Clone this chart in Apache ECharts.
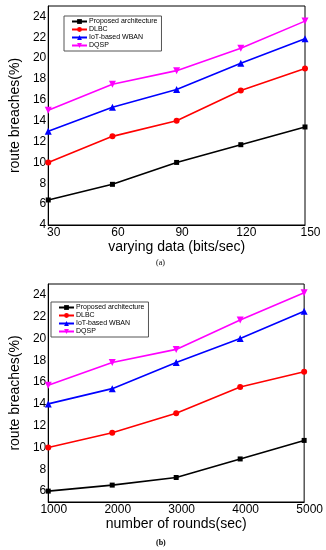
<!DOCTYPE html>
<html><head><meta charset="utf-8">
<script src="https://cdn.jsdelivr.net/npm/echarts@6/dist/echarts.min.js"></script>
<style>html,body{margin:0;padding:0;background:#fff}#c{width:326px;height:550px}</style>
</head><body><div id="c"></div>
<script>
var seriesNames = ['Proposed architecture', 'DLBC', 'IoT-based WBAN', 'DQSP'];
var xA = [30, 60, 90, 120, 150];
var proposedA = [6.4, 7.9, 10.0, 11.7, 13.4];
var dlbcA = [10.0, 12.5, 14.0, 16.9, 19.0];
var iotA = [13.0, 15.3, 17.0, 19.5, 21.85];
var dqspA = [15.0, 17.5, 18.8, 20.95, 23.55];
var xB = [1000, 2000, 3000, 4000, 5000];
var proposedB = [6.0, 6.55, 7.25, 8.95, 10.65];
var dlbcB = [10.0, 11.35, 13.15, 15.55, 16.95];
var iotB = [14.0, 15.4, 17.8, 20.0, 22.5];
var dqspB = [15.7, 17.8, 19.0, 21.7, 24.2];

var colors = ['#000000', '#ff0000', '#0000ff', '#ff00ff'];
var symbols = ['rect', 'circle', 'triangle', 'triangle'];
var symSizes = [5, 6, 7, 7];
var rotates = [0, 0, 0, 180];
var font = 'Liberation Sans, Arial, sans-serif';

function zip(xs, ys) { return xs.map(function (x, i) { return [x, ys[i]]; }); }
function mk(idx, gi, xs, ys) {
  return {
    name: seriesNames[idx], type: 'line', xAxisIndex: gi, yAxisIndex: gi,
    data: zip(xs, ys), symbol: symbols[idx], symbolSize: symSizes[idx], symbolRotate: rotates[idx],
    showAllSymbol: true, color: colors[idx],
    lineStyle: { width: 1.6, color: colors[idx] }, itemStyle: { color: colors[idx] },
    animation: false, z: 10 - idx
  };
}
function yAx(gi, min, max, interval) {
  return {
    type: 'value', gridIndex: gi, min: min, max: max, interval: interval,
    name: 'route breaches(%)', nameLocation: 'middle', nameGap: 22,
    nameTextStyle: { fontFamily: font, fontSize: 14, color: '#000' },
    axisLine: { show: true, lineStyle: { color: '#000', width: 1 } },
    axisTick: { show: false }, splitLine: { show: false },
    axisLabel: { fontFamily: font, fontSize: 12, color: '#000', margin: 2,
      formatter: function (v) { return (v % 2 === 0) ? String(v) : ''; } }
  };
}
function xAx(gi, min, max, interval, name) {
  return {
    type: 'value', gridIndex: gi, min: min, max: max, interval: interval,
    name: name, nameLocation: 'middle', nameGap: 15,
    nameTextStyle: { fontFamily: font, fontSize: 14, color: '#000' },
    axisLine: { show: true, lineStyle: { color: '#000', width: 1 } },
    axisTick: { show: false }, splitLine: { show: false },
    axisLabel: { fontFamily: font, fontSize: 12, color: '#000', margin: 2, padding: [0, 0, 0, 11],
      formatter: function (v) { return String(v); } }
  };
}
function leg(gi, left, top, names) {
  return {
    orient: 'vertical', left: left, top: top, data: seriesNames,
    itemWidth: 15, itemHeight: 6, itemGap: 1,
    padding: [2, 4, 2, 7], borderColor: '#555', borderWidth: 1, backgroundColor: '#fff',
    textStyle: { fontFamily: font, fontSize: 7, color: '#000', padding: [0, 0, 0, -3] },
    selectedMode: false
  };
}
var chart = echarts.init(document.getElementById('c'), null, { renderer: 'canvas' });
chart.setOption({
  backgroundColor: '#fff',
  animation: false,
  grid: [
    { left: 32, right: 21, top: 6, height: 219, show: true, borderColor: '#000', borderWidth: 1, backgroundColor: 'transparent' },
    { left: 30, right: 19, top: 284, height: 218, show: true, borderColor: '#000', borderWidth: 1, backgroundColor: 'transparent' }
  ],
  xAxis: [xAx(0, 30, 150, 30, 'varying data (bits/sec)'), xAx(1, 1000, 5000, 1000, 'number of rounds(sec)')],
  yAxis: [yAx(0, 4, 25, 1), yAx(1, 5, 25, 1)],
  legend: [leg(0, 64, 16), leg(1, 51, 302)],
  series: [
    mk(0, 0, xA, proposedA), mk(1, 0, xA, dlbcA), mk(2, 0, xA, iotA), mk(3, 0, xA, dqspA),
    mk(0, 1, xB, proposedB), mk(1, 1, xB, dlbcB), mk(2, 1, xB, iotB), mk(3, 1, xB, dqspB)
  ],
  graphic: [
    { type: 'text', left: 156, top: 259, style: { text: '(a)', font: '8px Liberation Serif, serif', fill: '#000' } },
    { type: 'text', left: 156, top: 539, style: { text: '(b)', font: 'bold 8px Liberation Serif, serif', fill: '#000' } }
  ]
});
</script></body></html>
